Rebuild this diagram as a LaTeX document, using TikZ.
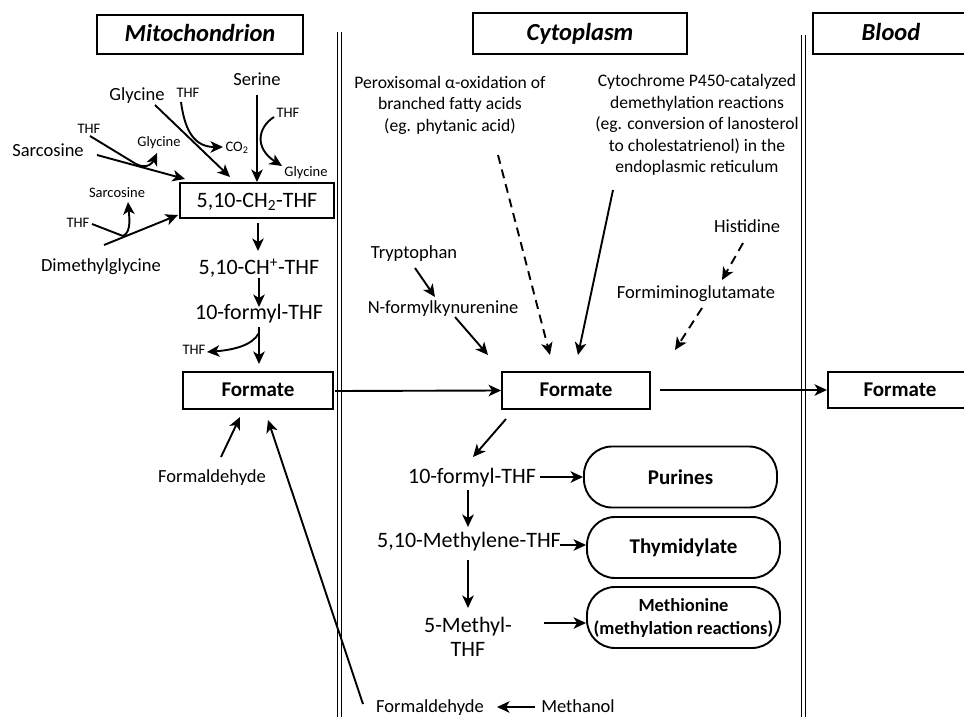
\documentclass[tikz,border=0pt]{standalone}
\usepackage{fontspec}
\setmainfont{Carlito}
\usetikzlibrary{arrows.meta}
\begin{document}
\begin{tikzpicture}[x=1pt,y=-1pt,
  lbl/.style={inner sep=0pt, text height=13.9pt, text depth=2.8pt, font=\fontsize{18.5}{22}\selectfont},
  pw/.style={inner sep=0pt, text height=16.5pt, text depth=3.3pt, font=\fontsize{22}{24}\selectfont},
  sm/.style={inner sep=0pt, text height=10.9pt, text depth=2.2pt, font=\fontsize{14.5}{16}\selectfont},
  note/.style={inner sep=0pt, align=center, font=\fontsize{17.6}{21.5}\selectfont},
  hdr/.style={draw, line width=1.9pt, inner sep=0pt, text height=18.4pt, text depth=3.7pt, font=\fontsize{24.5}{26}\selectfont\bfseries\itshape},
  fbox/.style={draw, line width=1.9pt, inner sep=0pt, text height=15.75pt, text depth=3.15pt, font=\fontsize{21}{24}\selectfont\bfseries},
  rbox/.style={draw, line width=1.9pt, inner sep=0pt, rounded corners=28pt, align=center, minimum width=193pt, minimum height=61pt},
  arr/.style={line width=1.9pt, -{Stealth[length=12.5pt,width=11.5pt,inset=3.5pt]}},
  darr/.style={arr, dash pattern=on 9pt off 6pt},
  thin/.style={line width=1.9pt},
  wall/.style={line width=0.9pt}
]
\useasboundingbox (0,0) rectangle (964,717);
\fill[white] (0,0) rectangle (964,717);

% compartment walls
\draw[wall] (337.5,32) -- (337.5,717) (341.5,32) -- (341.5,717);
\draw[wall] (801,35) -- (801,717) (805,35) -- (805,717);

% headers
\node[hdr, minimum width=206pt, minimum height=39pt] (hmito) at (200,34.5) {Mitochondrion};
\node[hdr, minimum width=214pt, minimum height=41pt] (hcyto) at (580,33.5) {Cytoplasm};
\node[hdr, minimum width=156pt, minimum height=41pt] (hblood) at (891,33.5) {Blood};

% mitochondrion
\node[fbox, font=\fontsize{22}{24}\selectfont, text height=16.5pt, text depth=3.3pt, minimum width=154pt, minimum height=35pt] (ch2) at (257,200.5) {5,10-CH\textsubscript{2}-THF};
\node[pw] (chp) at (259,268) {5,10-CH\textsuperscript{+}-THF};
\node[pw] (f10m) at (259,313) {10-formyl-THF};
\node[fbox, minimum width=150pt, minimum height=37pt] (fm) at (258,390.5) {Formate};
\node[lbl] (ser) at (257,80) {Serine};
\node[sm] (thfs) at (288,113) {THF};
\node[sm] (glys) at (306,172) {Glycine};
\node[lbl] (glyb) at (137,95) {Glycine};
\node[sm] (thfg) at (188,93) {THF};
\node[sm] (co2) at (237,147) {CO\textsubscript{2}};
\node[lbl] (sarb) at (48,151) {Sarcosine};
\node[sm] (thfsar) at (89,129) {THF};
\node[sm] (glysar) at (159,142) {Glycine};
\node[sm] (sars) at (117,193) {Sarcosine};
\node[sm] (thfd) at (78,223) {THF};
\node[lbl] (dmg) at (101,266) {Dimethylglycine};
\node[sm] (thfm) at (194,350) {THF};
\node[lbl] (fam) at (212,477) {Formaldehyde};

% cytoplasm
\node[fbox, minimum width=148pt, minimum height=37pt] (fc) at (576,390.5) {Formate};
\node[fbox, minimum width=150pt, minimum height=36pt, anchor=west] (fb) at (827,390) {};
\node[font=\fontsize{21}{24}\selectfont\bfseries, inner sep=0pt, text height=15.75pt, text depth=3.15pt] (fbt) at (900,390) {Formate};
\node[note] (perox) at (450,105) {Peroxisomal α-oxidation of\\branched fatty acids\\(eg. phytanic acid)};
\node[note] (cyp) at (697,125) {Cytochrome P450-catalyzed\\demethylation reactions\\(eg. conversion of lanosterol\\to cholestatrienol) in the\\endoplasmic reticulum};
\node[lbl] (trp) at (414,253) {Tryptophan};
\node[lbl] (nfk) at (443,308) {N-formylkynurenine};
\node[lbl] (his) at (747,227) {Histidine};
\node[lbl] (figlu) at (696,293) {Formiminoglutamate};
\node[pw] (f10c) at (472,477) {10-formyl-THF};
\node[pw] (mthf) at (469,541) {5,10-Methylene-THF};
\node[inner sep=0pt, align=center, font=\fontsize{22}{24}\selectfont] (m5) at (468,637) {5-Methyl-\\THF};
\node[rbox, font=\fontsize{21}{24}\selectfont\bfseries] (pur) at (680.5,477) {Purines};
\node[rbox, font=\fontsize{21}{24}\selectfont\bfseries] (thy) at (683.5,547.5) {Thymidylate};
\node[rbox, font=\fontsize{18.5}{23}\selectfont\bfseries] (met) at (683.5,617.5) {Methionine\\(methylation reactions)};
\node[lbl] (fab) at (430,707) {Formaldehyde};
\node[lbl] (meoh) at (578,707) {Methanol};

% free ends
\coordinate (a1) at (257,95); \coordinate (a1e) at (257,182);
\coordinate (g1) at (155,105); \coordinate (g1e) at (230,177);
\coordinate (s1) at (97,155); \coordinate (s1e) at (185,179);
\coordinate (d1) at (104,245); \coordinate (d1e) at (178,215);
\coordinate (j1) at (136,164);
\coordinate (j2) at (123,236);
\coordinate (m1) at (259,333);

\draw[arr] (a1) -- (a1e);
\draw[arr] (274,117) .. controls (258,127) and (254,148) .. (282,166);
\draw[arr] (g1) -- (g1e);
\draw[arr] (181,102) .. controls (185,132) and (195,147) .. (223,147);
\draw[arr] (s1) -- (s1e);
\draw[thin] (90,136) -- (j1);
\draw[arr] (j1) .. controls (148,170) and (153,162) .. (157,153);
\draw[arr] (d1) -- (d1e);
\draw[thin] (92,224) .. controls (108,230) .. (j2);
\draw[arr] (j2) .. controls (132,232) and (129,215) .. (128,202);
\draw[arr] (258,223) -- (258,251);
\draw[arr] (259,278) -- (259,307);
\draw[arr] (259,327) -- (259,364);
\draw[arr] (m1) .. controls (252,346) and (232,350) .. (207,352);
\draw[arr] (221,457) -- (240,417);
\draw[arr] (363,704) -- (268,420);
\draw[arr] (335,391) -- (fc.west);
\draw[arr] (660,390) -- (fb.west);
\draw[arr] (506,419) -- (473,457);
\draw[arr] (540,477) -- (pur.west);
\draw[arr] (468,490) -- (468,527);
\draw[arr] (560,545) -- (thy.west |- 0,545);
\draw[arr] (468,560) -- (468,608);
\draw[arr] (544,623) -- (met.west |- 0,623);
\draw[darr] (498,155) -- (550,355);
\draw[arr] (613,190) -- (578,355);
\draw[arr] (415,268) -- (435,297);
\draw[arr] (455,317) -- (488,355);
\draw[darr] (743,243) -- (722,280);
\draw[darr] (702,308) -- (675,350);
\draw[arr] (535,707) -- (497,707);
\end{tikzpicture}
\end{document}
